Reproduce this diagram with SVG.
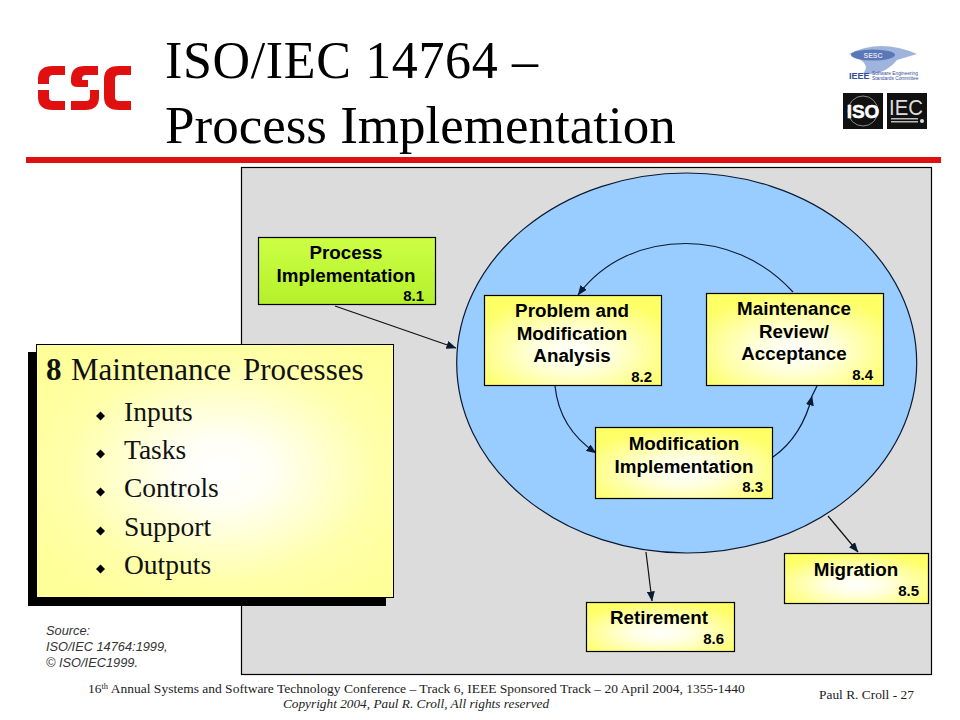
<svg xmlns="http://www.w3.org/2000/svg" width="960" height="720" viewBox="0 0 960 720">
<style>
.sans{font-family:"Liberation Sans",Arial,sans-serif}
.serif{font-family:"Liberation Serif","Times New Roman",serif}
.box{stroke:#000;stroke-width:1.2}
.lbl{font-family:"Liberation Sans",Arial,sans-serif;font-weight:bold;font-size:18.800px;text-anchor:middle;fill:#000}
.num{font-family:"Liberation Sans",Arial,sans-serif;font-weight:bold;font-size:15px;text-anchor:end;fill:#000}
.conn{fill:none;stroke:#0a1a33;stroke-width:1.2}
.line{fill:none;stroke:#111;stroke-width:1.2}
.li{font-family:"Liberation Serif","Times New Roman",serif;font-size:27.500px;fill:#111}
.src{font-family:"Liberation Sans",Arial,sans-serif;font-style:italic;font-size:12.800px;fill:#333}
</style>
<defs>
<radialGradient id="yg" cx="0.5" cy="0.62" r="0.62"><stop offset="0" stop-color="#fff"/><stop offset="0.35" stop-color="#ffffdd"/><stop offset="1" stop-color="#ffff66"/></radialGradient>
<radialGradient id="yg2" cx="0.52" cy="0.5" r="0.62"><stop offset="0" stop-color="#fff"/><stop offset="0.22" stop-color="#fffff4"/><stop offset="0.7" stop-color="#ffffaa"/><stop offset="1" stop-color="#ffff99"/></radialGradient>
<linearGradient id="gr" x1="0" y1="0" x2="0" y2="1"><stop offset="0" stop-color="#ccff44"/><stop offset="1" stop-color="#b4f02c"/></linearGradient>
<marker id="ah" markerWidth="10" markerHeight="8" refX="9.500" refY="4" orient="auto" markerUnits="userSpaceOnUse"><path d="M0 0L10 4L0 8z" fill="#0a1a33"/></marker>
</defs>
<rect width="960" height="720" fill="#fff"/>

<g id="header">
<text class="serif" x="165" y="78" font-size="52" fill="#000" textLength="373" lengthAdjust="spacing">ISO/IEC 14764 –</text>
<text class="serif" x="165" y="143" font-size="53" fill="#000">Process Implementation</text>
<rect x="26" y="157" width="915" height="6" fill="#dd1111"/>
</g>

<g id="csc-logo" fill="#e01010">
<path d="M65 66H53Q38 66 38 79V84H49V79Q49 75 53 75H65zM38 90V97Q38 110 53 110H65V101H53Q49 101 49 97V90z"/>
<path d="M98 66H85Q71 66 71 79V82Q71 87 78 87H88V80H82V79Q82 75 86 75H98zM71 101H86Q90 101 90 97V90H99V97Q99 110 85 110H71z"/>
<path d="M131 66H119Q104 66 104 79V97Q104 110 119 110H131V101H119Q115 101 115 97V79Q115 75 119 75H131z"/>
</g>

<g id="ieee-logo">
<path d="M849 54Q880 38 917 54L897 60Q884 76 862 74Q874 64 849 54z" fill="#9fb4dc"/>
<ellipse cx="873" cy="55" rx="22" ry="5.500" fill="#5a78b8"/>
<text class="sans" x="873" y="58" font-size="7" font-weight="bold" text-anchor="middle" fill="#dde">SESC</text>
<text class="sans" x="849" y="79" font-size="9" font-weight="bold" fill="#334c99">IEEE</text>
<text class="sans" x="872" y="74.500" font-size="4.800" fill="#334c99">Software Engineering</text>
<text class="sans" x="872" y="79.500" font-size="4.800" fill="#334c99">Standards Committee</text>
</g>
<g id="iso-logo">
<rect x="843" y="93" width="40" height="36" fill="#111"/>
<circle cx="863" cy="111" r="15" fill="none" stroke="#888" stroke-width="1"/>
<text class="sans" x="863" y="118" font-size="19" font-weight="bold" text-anchor="middle" fill="#fff" stroke="#fff" stroke-width=".5">ISO</text>
</g>
<g id="iec-logo">
<rect x="887" y="93" width="40" height="36" fill="#111"/>
<text class="sans" x="906" y="115" font-size="22" text-anchor="middle" fill="#ddd" textLength="34" lengthAdjust="spacingAndGlyphs">IEC</text>
<rect x="891" y="118" width="27" height="1.500" fill="#bbb"/><rect x="891" y="121" width="27" height="1.500" fill="#bbb"/><circle cx="922" cy="121" r="2" fill="#ddd"/>
</g>

<rect id="panel" x="241.500" y="167.500" width="690" height="507" fill="#dcdcdc" stroke="#000" stroke-width="1.200"/>
<ellipse id="cycle" cx="686.700" cy="363" rx="230" ry="190" fill="#99ccff" stroke="#0a1a33" stroke-width="1.200"/>

<g id="connectors">
<path class="conn" d="M793 292C762 258 722 243.500 686 243.500C645 243.500 605 259 578 295" marker-end="url(#ah)"/>
<path class="conn" d="M555 386C558 415 572 437 596 453" marker-end="url(#ah)"/>
<path class="conn" d="M773 457C792 444 806 422 812 396" marker-end="url(#ah)"/>
<path class="conn" d="M812 396L817 386"/>
<path class="line" d="M335 306L456 348" marker-end="url(#ah)"/>
<path class="line" d="M828 516L858 552" marker-end="url(#ah)"/>
<path class="line" d="M646 552L652 601" marker-end="url(#ah)"/>
</g>

<g id="n81"><rect class="box" x="258.500" y="237.500" width="177" height="67" fill="url(#gr)"/>
<text class="lbl" x="346" y="259">Process</text><text class="lbl" x="346" y="282">Implementation</text><text class="num" x="424" y="301">8.1</text></g>
<g id="n82"><rect class="box" x="484.500" y="295.500" width="177" height="90" fill="url(#yg)"/>
<text class="lbl" x="572" y="317">Problem and</text><text class="lbl" x="572" y="340">Modification</text><text class="lbl" x="572" y="362">Analysis</text><text class="num" x="652" y="382">8.2</text></g>
<g id="n84"><rect class="box" x="706.500" y="293.500" width="177" height="92" fill="url(#yg)"/>
<text class="lbl" x="794" y="315">Maintenance</text><text class="lbl" x="794" y="338">Review/</text><text class="lbl" x="794" y="360">Acceptance</text><text class="num" x="873" y="380">8.4</text></g>
<g id="n83"><rect class="box" x="595.500" y="427.500" width="177" height="71" fill="url(#yg)"/>
<text class="lbl" x="684" y="450">Modification</text><text class="lbl" x="684" y="473">Implementation</text><text class="num" x="763" y="492">8.3</text></g>
<g id="n85"><rect class="box" x="784.500" y="553.500" width="144" height="50" fill="url(#yg)"/>
<text class="lbl" x="856" y="576">Migration</text><text class="num" x="919" y="596">8.5</text></g>
<g id="n86"><rect class="box" x="586.500" y="602.500" width="148" height="49" fill="url(#yg)"/>
<text class="lbl" x="659" y="624">Retirement</text><text class="num" x="724" y="644">8.6</text></g>

<g id="processes">
<rect x="28" y="352" width="358" height="254" fill="#000"/>
<rect x="36.500" y="344.500" width="357" height="253" fill="url(#yg2)" stroke="#000" stroke-width="1"/>
<text class="serif" x="46" y="380" font-size="31" fill="#111"><tspan font-weight="bold">8</tspan><tspan x="71">Maintenance</tspan><tspan x="243">Processes</tspan></text>
<g fill="#000"><path d="M100.500 411.500l4.500 4.500l-4.500 4.500l-4.500-4.500z"/><path d="M100.500 449.500l4.500 4.500l-4.500 4.500l-4.500-4.500z"/><path d="M100.500 487.500l4.500 4.500l-4.500 4.500l-4.500-4.500z"/><path d="M100.500 526.500l4.500 4.500l-4.500 4.500l-4.500-4.500z"/><path d="M100.500 564.500l4.500 4.500l-4.500 4.500l-4.500-4.500z"/></g>
<text class="li" x="124" y="421">Inputs</text>
<text class="li" x="124" y="459">Tasks</text>
<text class="li" x="124" y="497">Controls</text>
<text class="li" x="124" y="536">Support</text>
<text class="li" x="124" y="574">Outputs</text>
</g>

<g id="source">
<text class="src" x="46" y="635">Source:</text>
<text class="src" x="46" y="651">ISO/IEC 14764:1999,</text>
<text class="src" x="46" y="667">© ISO/IEC1999.</text>
</g>
<g id="footer" fill="#222">
<text class="serif" x="88" y="693" font-size="13.500">16<tspan font-size="8.500" dy="-4">th</tspan><tspan dy="4"> Annual Systems and Software Technology Conference – Track 6, IEEE Sponsored Track – 20 April 2004, 1355-1440</tspan></text>
<text class="serif" x="416" y="708" font-size="13.300" font-style="italic" text-anchor="middle">Copyright 2004, Paul R. Croll, All rights reserved</text>
<text class="serif" x="819" y="699" font-size="13.400">Paul R. Croll  - 27</text>
</g>
</svg>
